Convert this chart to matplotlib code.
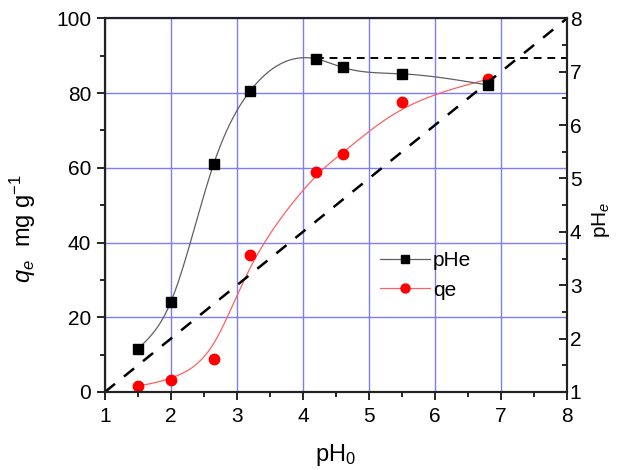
import numpy as np
import matplotlib
matplotlib.use('Agg')
import matplotlib.pyplot as plt
from matplotlib.ticker import MultipleLocator

plt.rcParams['font.family'] = ['Liberation Sans', 'DejaVu Sans']
plt.rcParams['mathtext.fontset'] = 'custom'
plt.rcParams['mathtext.rm'] = 'Liberation Sans'
plt.rcParams['mathtext.it'] = 'Liberation Sans:italic'

# data
ph0 = [1.5, 2.0, 2.65, 3.2, 4.2, 4.6, 5.5, 6.8]
phe = [1.81, 2.69, 5.28, 6.64, 7.24, 7.08, 6.96, 6.75]
qe = [1.6, 3.2, 8.9, 36.6, 58.8, 63.7, 77.5, 83.7]


def natural_spline(x, y, n=300):
    x = np.asarray(x, float)
    y = np.asarray(y, float)
    k = len(x)
    h = np.diff(x)
    A = np.zeros((k, k))
    b = np.zeros(k)
    A[0, 0] = A[-1, -1] = 1
    for i in range(1, k - 1):
        A[i, i - 1] = h[i - 1]
        A[i, i] = 2 * (h[i - 1] + h[i])
        A[i, i + 1] = h[i]
        b[i] = 6 * ((y[i + 1] - y[i]) / h[i] - (y[i] - y[i - 1]) / h[i - 1])
    m = np.linalg.solve(A, b)
    xs = np.linspace(x[0], x[-1], n)
    j = np.clip(np.searchsorted(x, xs) - 1, 0, k - 2)
    t0 = x[j + 1] - xs
    t1 = xs - x[j]
    hj = h[j]
    ys = (m[j] * t0**3 / (6 * hj) + m[j + 1] * t1**3 / (6 * hj)
          + (y[j] / hj - m[j] * hj / 6) * t0 + (y[j + 1] / hj - m[j + 1] * hj / 6) * t1)
    return xs, ys


def bspline(x, y, n=300):
    # clamped uniform cubic B-spline, data used as control points
    P = np.column_stack([x, y]).astype(float)
    P = np.vstack([P[0], P[0], P, P[-1], P[-1]])
    pts = []
    for i in range(len(P) - 3):
        t = np.linspace(0, 1, n // (len(P) - 3))[:, None]
        b0 = (1 - t)**3 / 6
        b1 = (3 * t**3 - 6 * t**2 + 4) / 6
        b2 = (-3 * t**3 + 3 * t**2 + 3 * t + 1) / 6
        b3 = t**3 / 6
        pts.append(b0 * P[i] + b1 * P[i + 1] + b2 * P[i + 2] + b3 * P[i + 3])
    pts = np.vstack(pts)
    return pts[:, 0], pts[:, 1]


fig = plt.figure(figsize=(6.17, 4.70), dpi=100)
ax = fig.add_axes([0.170, 0.166, 0.749, 0.795])
ax2 = ax.twinx()

ax.set_xlim(1, 8)
ax.set_ylim(0, 100)
ax2.set_ylim(1, 8)

ax.grid(True, color='#7c7cff', lw=1.0)
ax.set_axisbelow(True)

# qe on the left axis
xs, ys = bspline(ph0, qe)
ax.plot(xs, ys, color='#ff6060', lw=0.9)
ax.plot(ph0, qe, 'o', color='red', ms=7.5)

# pHe on the right axis
xs2, ys2 = natural_spline(ph0, phe)
ax2.plot(xs2, ys2, color='#606060', lw=0.9)
ax2.plot(ph0, phe, 's', color='black', ms=7)
ax2.axline((1, 1), slope=1, color='black', lw=1.8, ls=(0, (5.2, 4.6)))
ax2.hlines(ys2.max(), ph0[4], 8, color='black', lw=1.4, ls=(0, (4, 3)))

# legend proxies
h1, = ax2.plot([], [], '-s', color='#606060', mfc='black', mec='black', ms=5.5, lw=0.9)
h2, = ax2.plot([], [], '-o', color='#ff6060', mfc='red', mec='red', ms=6.5, lw=0.9)
ax2.legend([h1, h2], ['pHe', 'qe'], loc='center left', bbox_to_anchor=(0.577, 0.312),
           borderaxespad=0, frameon=False, fontsize=15, handlelength=2.4,
           handletextpad=0.15, labelspacing=0.5)

ax.xaxis.set_major_locator(MultipleLocator(1))
ax.xaxis.set_minor_locator(MultipleLocator(0.5))
ax.yaxis.set_major_locator(MultipleLocator(20))
ax.yaxis.set_minor_locator(MultipleLocator(10))
ax2.yaxis.set_major_locator(MultipleLocator(1))
ax2.yaxis.set_minor_locator(MultipleLocator(0.5))

ax.tick_params(axis='both', which='major', direction='out', length=6, width=1.2,
               labelsize=15)
ax.tick_params(axis='x', which='major', pad=5)
ax.tick_params(axis='y', which='major', pad=4)
ax.tick_params(axis='both', which='minor', direction='out', length=3.5, width=1.2)
ax.tick_params(axis='x', top=False, which='both')
ax2.tick_params(axis='y', which='major', direction='in', length=6, width=1.2,
                labelsize=15, pad=2)
ax2.tick_params(axis='y', which='minor', direction='in', length=3.5, width=1.2)

for a in (ax, ax2):
    for s in a.spines.values():
        s.set_linewidth(1.5)
        s.set_color('#222222')

ax.set_xlabel(r'pH$_0$', fontsize=17, labelpad=11)
ax.set_ylabel(r'$q_e$  mg g$^{\mathrm{-1}}$', fontsize=17)
ax.yaxis.set_label_coords(-0.144, 0.4385)
ax2.set_ylabel(r'pH$_e$', fontsize=15)
ax2.yaxis.set_label_coords(1.05, 0.46)

fig.savefig('out.png', dpi=100)
